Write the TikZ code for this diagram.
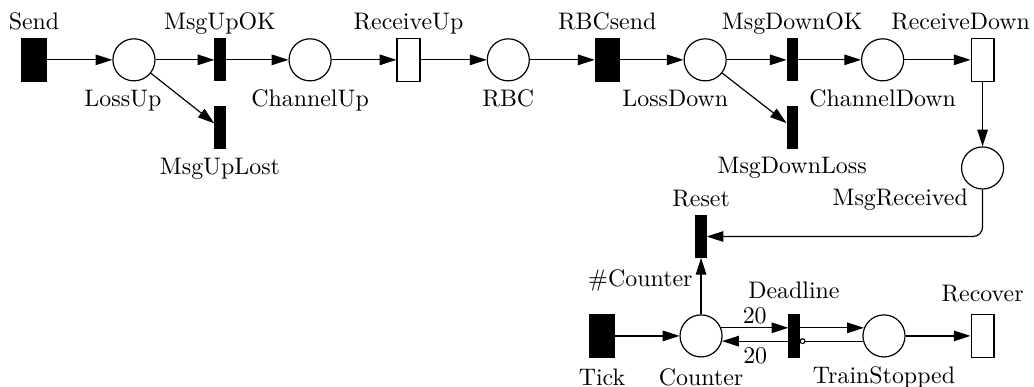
\documentclass[tikz,border=0pt]{standalone}
\usetikzlibrary{arrows.meta}
\begin{document}
\begin{tikzpicture}[
    line width=0.5pt,
    placenode/.style={draw, circle, minimum size=17.6pt, inner sep=0pt},
    blacktr/.style={draw, fill=black, minimum width=10pt, minimum height=17.8pt, inner sep=0pt},
    thintr/.style={draw, fill=black, minimum width=4.2pt, minimum height=17.4pt, inner sep=0pt},
    whitetr/.style={draw, fill=white, minimum width=9.6pt, minimum height=17.8pt, inner sep=0pt},
    flow/.style={-{Triangle[length=7pt,width=4.4pt]}},
    inhib/.style={-{Circle[open,length=2.5pt]}},
    every label/.style={text depth=0pt},
]
    \useasboundingbox (0,0) rectangle (15.206,-5.691);

    % Upstream channel
    \node[blacktr, label=above:Send] (Send) at (0.50,-0.88) {};
    \node[placenode, label={[xshift=-4.6pt]below:LossUp}] (LossUp) at (1.97,-0.88) {};
    \node[thintr, label=above:MsgUpOK] (MsgUpOK) at (3.235,-0.88) {};
    \node[thintr, label=below:MsgUpLost] (MsgUpLost) at (3.235,-1.88) {};
    \node[placenode, label=below:ChannelUp] (ChannelUp) at (4.56,-0.88) {};
    \node[whitetr, label=above:ReceiveUp] (ReceiveUp) at (6.007,-0.88) {};
    \node[placenode, label=below:RBC] (RBC) at (7.475,-0.88) {};

    % Downstream channel
    \node[blacktr, label=above:RBCsend] (RBCsend) at (8.93,-0.88) {};
    \node[placenode, label={[xshift=-12.5pt]below:LossDown}] (LossDown) at (10.37,-0.88) {};
    \node[thintr, label=above:MsgDownOK] (MsgDownOK) at (11.65,-0.88) {};
    \node[thintr, label=below:MsgDownLoss] (MsgDownLoss) at (11.65,-1.875) {};
    \node[placenode, label=below:ChannelDown] (ChannelDown) at (12.98,-0.88) {};
    \node[whitetr, label={[xshift=-9.2pt]above:ReceiveDown}] (ReceiveDown) at (14.45,-0.88) {};
    \node[placenode, label={[xshift=3.8pt, yshift=1.3pt]below left:MsgReceived}] (MsgReceived) at (14.45,-2.47) {};

    % Timer part
    \node[thintr, label=above:Reset] (Reset) at (10.31,-3.478) {};
    \node[blacktr, label={[yshift=-0.9pt]below:Tick}] (Tick) at (8.853,-4.94) {};
    \node[placenode, label={[yshift=-0.9pt]below:Counter}] (Counter) at (10.31,-4.94) {};
    \node[thintr, minimum height=17.6pt, label={[yshift=2.9pt]above:Deadline}] (Deadline) at (11.676,-4.94) {};
    \node[placenode, label={[yshift=-0.4pt]below:TrainStopped}] (TrainStopped) at (13.0,-4.94) {};
    \node[whitetr, label={[yshift=1.7pt]above:Recover}] (Recover) at (14.45,-4.94) {};

    % Arcs along the top row
    \draw[flow] (Send) -- (LossUp);
    \draw[flow] (LossUp) -- (MsgUpOK);
    \draw[flow] (LossUp) -- (MsgUpLost);
    \draw[flow] (MsgUpOK) -- (ChannelUp);
    \draw[flow] (ChannelUp) -- (ReceiveUp);
    \draw[flow] (ReceiveUp) -- (RBC);
    \draw[flow] (RBC) -- (RBCsend);
    \draw[flow] (RBCsend) -- (LossDown);
    \draw[flow] (LossDown) -- (MsgDownOK);
    \draw[flow] (LossDown) -- (MsgDownLoss);
    \draw[flow] (MsgDownOK) -- (ChannelDown);
    \draw[flow] (ChannelDown) -- (ReceiveDown);
    \draw[flow] (ReceiveDown) -- (MsgReceived);
    \draw[flow, rounded corners=4pt] (MsgReceived) |- (Reset);

    % Arcs of the timer
    \draw[flow] (Counter) -- (Reset) node[pos=0.6, left] (lblReset) {\#Counter};
    \draw[flow] (Tick) -- (Counter);
    \draw[flow] (Counter.22) -- (Counter.22 -| Deadline.west)
        node[midway, above, inner sep=1.5pt] (wUp) {20};
    \draw[flow] (Deadline.west |- Counter.346) -- (Counter.346)
        node[midway, below, inner sep=2.5pt] (wDown) {20};
    \draw[flow] (Deadline.east |- TrainStopped.158) -- (TrainStopped.158);
    \draw[inhib] (TrainStopped.194) -- (TrainStopped.194 -| Deadline.east);
    \draw[flow] (TrainStopped) -- (Recover);
\end{tikzpicture}
\end{document}
